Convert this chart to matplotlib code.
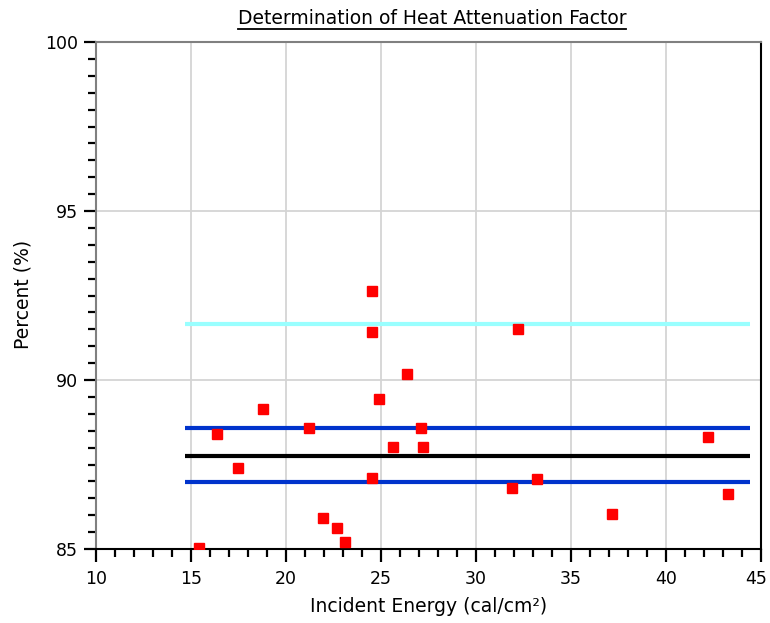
import numpy as np
from matplotlib import pyplot as plt
from matplotlib.ticker import MultipleLocator, FuncFormatter
from matplotlib.lines import Line2D

# measured points (incident energy, percent)
energy = [24.51, 24.51, 26.39, 24.91, 18.79, 21.21, 27.12, 16.37, 25.63, 27.23, 17.46,
          24.51, 21.96, 22.68, 23.12, 15.42, 32.19, 42.21, 33.23, 31.88, 43.26, 37.14]
percent = [92.62, 91.43, 90.19, 89.43, 89.14, 88.59, 88.59, 88.41, 88.01, 88.01, 87.40,
           87.11, 85.92, 85.63, 85.21, 85.02, 91.51, 88.30, 87.06, 86.81, 86.64, 86.04]

# horizontal reference lines
line_x = [14.7, 44.4]
upper_limit = 91.65
mean_plus = 88.57
mean_val = 87.74
mean_minus = 86.97

x_max = 45

plt.rcParams['font.family'] = ['DejaVu Sans']
fig = plt.figure(figsize=(7.7, 6.23), dpi=100)
ax = fig.add_axes([96 / 770, 1 - 549 / 623, 665 / 770, 507 / 623])

ax.plot(line_x, [upper_limit] * 2, color='#99ffff', lw=3, solid_capstyle='butt', zorder=3)
ax.plot(line_x, [mean_plus] * 2, color='#0033cc', lw=3, solid_capstyle='butt', zorder=3)
ax.plot(line_x, [mean_val] * 2, color='black', lw=3, solid_capstyle='butt', zorder=3)
ax.plot(line_x, [mean_minus] * 2, color='#0033cc', lw=3, solid_capstyle='butt', zorder=3)
ax.plot(energy, percent, 's', color='#ff0000', markersize=7, zorder=4)

ax.set_xlim(10, x_max)
ax.set_ylim(85, 100)
ax.xaxis.set_major_locator(MultipleLocator(5))
ax.xaxis.set_minor_locator(MultipleLocator(1))
ax.yaxis.set_major_locator(MultipleLocator(5))
ax.yaxis.set_minor_locator(MultipleLocator(0.5))
# the last x label is drawn separately, nudged left so it stays inside the picture
ax.xaxis.set_major_formatter(FuncFormatter(lambda v, p: '' if v >= x_max else f'{v:g}'))
ax.grid(True, which='major', color='#d4d4d4', lw=1.3)
ax.set_axisbelow(True)

ax.tick_params(which='major', direction='out', length=9, width=1.6, labelsize=12.5, colors='black')
ax.tick_params(which='minor', direction='out', length=6, width=1.6)
ax.tick_params(axis='x', pad=6)
ax.tick_params(axis='y', pad=4)

ax.annotate(f'{x_max:g}', xy=(x_max, 0), xycoords=('data', 'axes fraction'),
            xytext=(-3.5, -15), textcoords='offset points', ha='center', va='top',
            fontsize=12.5, annotation_clip=False)

ax.spines['top'].set_color('#808080')
ax.spines['left'].set_color('#808080')
ax.spines['right'].set_color('black')
ax.spines['bottom'].set_color('black')
for s in ax.spines.values():
    s.set_linewidth(1.5)

ax.set_xlabel('Incident Energy (cal/cm²)', fontsize=13.5)
ax.set_ylabel('Percent (%)', fontsize=13.5)
ax.xaxis.set_label_coords((429 - 96) / 665, (549 - 606) / 507)
ax.yaxis.set_label_coords((23 - 96) / 665, (549 - 294) / 507)
ax.xaxis.label.set_va('center')
ax.yaxis.label.set_va('center')

title = fig.text(432 / 770, 1 - 19 / 623, 'Determination of Heat Attenuation Factor',
                 ha='center', va='center', fontsize=13.5)
fig.canvas.draw()
bb = title.get_window_extent().transformed(fig.transFigure.inverted())
fig.add_artist(Line2D([bb.x0, bb.x1], [bb.y0 - 0.001, bb.y0 - 0.001], color='black', lw=1.3,
                      transform=fig.transFigure))

fig.savefig('out.png', dpi=100)
